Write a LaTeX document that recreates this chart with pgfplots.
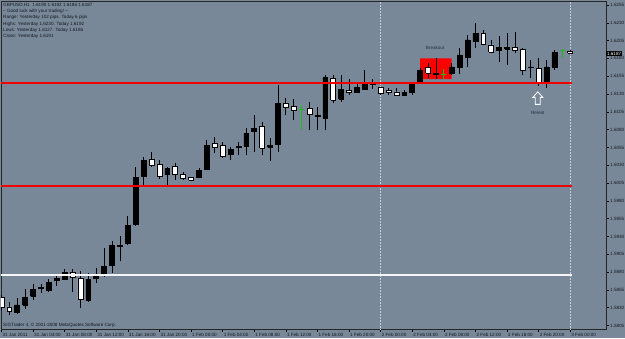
\documentclass[border=0pt]{standalone}
\usepackage{fontspec}
\setmainfont{Liberation Sans}
\usepackage{pgfplots}
\usepackage{pgfplotstable}
\pgfplotsset{compat=1.18}
\definecolor{bg}{RGB}{120,136,153}
\definecolor{txt}{RGB}{20,24,30}
\definecolor{dojigreen}{RGB}{30,185,30}
\definecolor{levelred}{RGB}{240,0,0}
\definecolor{sep}{RGB}{200,205,212}

\pgfplotstableread{
k o h l c
0 1.5845 1.5848 1.5827 1.5831
1 1.5831 1.5838 1.5820 1.5825
2 1.5823 1.5844 1.5821 1.5834
3 1.5834 1.5856 1.5828 1.5845
4 1.5846 1.5863 1.5841 1.5856
5 1.5857 1.5863 1.5851 1.5858
6 1.5855 1.5870 1.5852 1.5866
7 1.5868 1.5875 1.5861 1.5871
8 1.5870 1.5885 1.5869 1.5880
9 1.5880 1.5884 1.5852 1.5873
10 1.5871 1.5881 1.5829 1.5842
11 1.5840 1.5879 1.5838 1.5870
12 1.5871 1.5886 1.5865 1.5877
13 1.5876 1.5914 1.5873 1.5888
14 1.5889 1.5924 1.5879 1.5918
15 1.5916 1.5930 1.5895 1.5918
16 1.5921 1.5959 1.5918 1.5945
17 1.5947 1.6028 1.5945 1.6013
18 1.6015 1.6042 1.6002 1.6037
19 1.6038 1.6049 1.6028 1.6030
20 1.6031 1.6037 1.6011 1.6014
21 1.6017 1.6028 1.6002 1.6026
22 1.6028 1.6033 1.6009 1.6017
23 1.6017 1.6021 1.6009 1.6011
24 1.6013 1.6014 1.6008 1.6009
25 1.6013 1.6026 1.6012 1.6023
26 1.6024 1.6065 1.6023 1.6058
27 1.6061 1.6070 1.6047 1.6055
28 1.6058 1.6063 1.6040 1.6043
29 1.6046 1.6056 1.6037 1.6052
30 1.6055 1.6063 1.6044 1.6056
31 1.6056 1.6082 1.6044 1.6075
32 1.6077 1.6101 1.6049 1.6082
33 1.6084 1.6091 1.6044 1.6054
34 1.6055 1.6068 1.6036 1.6058
35 1.6060 1.6143 1.6049 1.6117
36 1.6117 1.6124 1.6101 1.6111
37 1.6113 1.6123 1.6094 1.6107
38 1.6109 1.6115 1.6080 1.6109
39 1.6110 1.6119 1.6080 1.6101
40 1.6099 1.6112 1.6080 1.6100
41 1.6096 1.6157 1.6080 1.6153
42 1.6152 1.6157 1.6117 1.6121
43 1.6123 1.6157 1.6119 1.6137
44 1.6135 1.6151 1.6129 1.6132
45 1.6133 1.6145 1.6131 1.6139
46 1.6137 1.6164 1.6136 1.6146
47 1.6143 1.6151 1.6137 1.6146
48 1.6139 1.6140 1.6129 1.6131
49 1.6135 1.6138 1.6129 1.6132
50 1.6133 1.6138 1.6127 1.6128
51 1.6128 1.6136 1.6127 1.6132
52 1.6132 1.6147 1.6129 1.6144
53 1.6145 1.6167 1.6144 1.6164
54 1.6167 1.6174 1.6152 1.6159
55 1.6159 1.6180 1.6151 1.6157
56 1.6158 1.6165 1.6151 1.6158
57 1.6159 1.6174 1.6157 1.6168
58 1.6168 1.6194 1.6158 1.6185
59 1.6182 1.6213 1.6168 1.6206
60 1.6204 1.6230 1.6194 1.6215
61 1.6215 1.6220 1.6199 1.6200
62 1.6199 1.6206 1.6187 1.6189
63 1.6191 1.6211 1.6175 1.6196
64 1.6193 1.6215 1.6171 1.6195
65 1.6196 1.6217 1.6187 1.6191
66 1.6193 1.6194 1.6157 1.6164
67 1.6167 1.6178 1.6152 1.6168
68 1.6166 1.6180 1.6141 1.6145
69 1.6145 1.6178 1.6138 1.6168
70 1.6168 1.6192 1.6164 1.6188
71 1.6191 1.6193 1.6180 1.6191
72 1.6190 1.6192 1.6186 1.6187
}\ohlc

\pgfplotstableread{
x y
-0.05 1.6145
72.2 1.6145
}\levelA
\pgfplotstableread{
x y
-0.05 1.6001
72.2 1.6001
}\levelB
\pgfplotstableread{
x y
-0.05 1.5876
72.2 1.5876
}\levelC

\pgfplotsset{
  wick0/.style={black, line width=0.7pt},
  wick1/.style={black, line width=0.7pt},
  wick2/.style={dojigreen, line width=0.8pt},
  body0/.style={draw=black, fill=white, line width=0.6pt},
  body1/.style={draw=black, fill=black, line width=0.6pt},
  body2/.style={draw=dojigreen, line width=0.8pt},
}
\newcommand{\tinyfont}{\fontsize{4.6}{5.2}\selectfont}

\begin{document}
\begin{tikzpicture}[x=1pt,y=1pt]
\fill[bg] (0,0) rectangle (625,338);
\begin{axis}[
  at={(1pt,9pt)}, anchor=south west,
  scale only axis, width=605pt, height=328pt,
  xmin=-0.05, xmax=76.53, ymin=1.58001, ymax=1.62606,
  clip mode=individual,
  axis line style={draw=black!85, line width=0.6pt},
  tick align=outside, major tick length=3pt,
  every tick/.style={black, line width=0.5pt},
  xtick pos=bottom, ytick pos=right, yticklabel pos=right,
  scaled y ticks=false,
  xtick={0,4,...,72},
  xticklabels={31 Jan 2011,31 Jan 04:00,31 Jan 08:00,31 Jan 12:00,31 Jan 16:00,31 Jan 20:00,1 Feb 00:00,1 Feb 04:00,1 Feb 08:00,1 Feb 12:00,1 Feb 16:00,1 Feb 20:00,2 Feb 00:00,2 Feb 04:00,2 Feb 08:00,2 Feb 12:00,2 Feb 16:00,2 Feb 20:00,3 Feb 00:00},
  xticklabel style={font=\tinyfont, text=txt, anchor=north west, inner sep=0pt, xshift=1pt, yshift=-1pt},
  ytick={1.5805,1.5830,1.5855,1.5880,1.5905,1.5930,1.5955,1.5980,1.6005,1.6030,1.6055,1.6080,1.6105,1.6130,1.6155,1.6180,1.6205,1.6230,1.6255},
  yticklabel style={font=\tinyfont, text=txt, anchor=west, inner sep=0pt, xshift=1pt,
    /pgf/number format/fixed, /pgf/number format/fixed zerofill,
    /pgf/number format/precision=4, /pgf/number format/assume math mode=true},
]
% period separators
\addplot[densely dotted, color=sep, line width=0.5pt] coordinates {(48,1.5800) (48,1.6261)};
\addplot[densely dotted, color=sep, line width=0.5pt] coordinates {(72,1.5800) (72,1.6261)};
% breakout box
\addplot[fill=red, draw=none] coordinates {(53,1.6151) (57,1.6151) (57,1.6180) (53,1.6180) (53,1.6151)};
% candles
\pgfplotsforeachungrouped \i in {0,...,72}{%
  \pgfplotstablegetelem{\i}{o}\of\ohlc \let\cO\pgfplotsretval
  \pgfplotstablegetelem{\i}{h}\of\ohlc \let\cH\pgfplotsretval
  \pgfplotstablegetelem{\i}{l}\of\ohlc \let\cL\pgfplotsretval
  \pgfplotstablegetelem{\i}{c}\of\ohlc \let\cC\pgfplotsretval
  \pgfmathsetmacro\cLo{min(\cO,\cC)}%
  \pgfmathsetmacro\cHi{max(\cO,\cC)}%
  \pgfmathsetmacro\xa{\i-0.31}%
  \pgfmathsetmacro\xb{\i+0.31}%
  \pgfmathtruncatemacro\cT{\cC>\cO ? 1 : (\cC<\cO ? 0 : 2)}%
  \edef\tmp{\noexpand\addplot[wick\cT] coordinates {(\i,\cL) (\i,\cH)};
    \noexpand\addplot[body\cT] coordinates {(\xa,\cLo) (\xb,\cLo) (\xb,\cHi) (\xa,\cHi) (\xa,\cLo)};}%
  \tmp
}
% horizontal levels (drawn over the candles)
\addplot[draw=levelred, line width=1.8pt, mark=none] table[x=x, y=y] {\levelA};
\addplot[draw=levelred, line width=1.8pt, mark=none] table[x=x, y=y] {\levelB};
\addplot[draw=white!92!bg, line width=1.6pt, mark=none] table[x=x, y=y] {\levelC};
% annotations
\node[font=\tinyfont, text=txt!80!bg] at (axis cs:54.9,1.6195) {Breakout};
\node[font=\tinyfont, text=txt!80!bg] at (axis cs:67.9,1.6104) {Retest};
\draw[white, line width=0.8pt, line join=miter] (axis cs:67.9,1.6133) -- ++(-5pt,-5.5pt) -- ++(2.5pt,0pt) -- ++(0pt,-7pt) -- ++(5pt,0pt) -- ++(0pt,7pt) -- ++(2.5pt,0pt) -- cycle;
\node[fill=black, text=white, font=\tinyfont, inner sep=0.9pt, anchor=west] at (axis cs:76.53,1.6187) {1.6187};
\end{axis}
\begin{scope}[font=\tinyfont, text=txt]
\node[anchor=west, inner sep=0] at (3,332.7) {GBPUSD,H1 \ 1.6190 1.6192 1.6186 1.6187};
\node[anchor=west, inner sep=0] at (3,326.4) {-- Good luck with your trading! --};
\node[anchor=west, inner sep=0] at (3,320.3) {Range: Yesterday 102 pips. Today 6 pips};
\node[anchor=west, inner sep=0] at (3,314.1) {Highs: Yesterday 1.6230. Today 1.6192};
\node[anchor=west, inner sep=0] at (3,308.0) {Lows: Yesterday 1.6127. Today 1.6186};
\node[anchor=west, inner sep=0] at (3,302.0) {Close: Yesterday 1.6191};
\node[anchor=west, inner sep=0] at (3,13) {SIGTrader 4, \textcopyright\ 2001-2008 MetaQuotes Software Corp.};
\end{scope}
\end{tikzpicture}
\end{document}
